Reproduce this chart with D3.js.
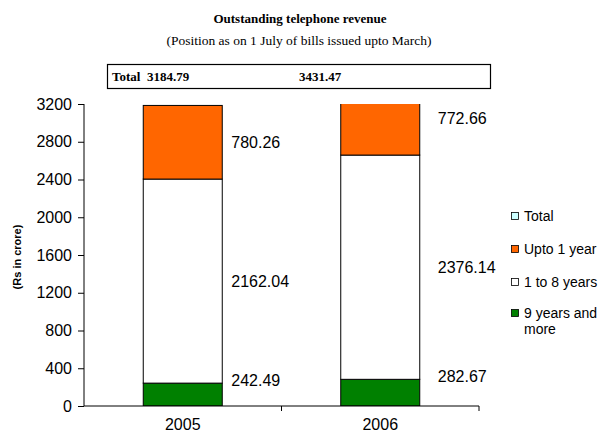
<!DOCTYPE html>
<html><head><meta charset="utf-8">
<script src="https://cdn.jsdelivr.net/npm/d3@7"></script>
<style>body{margin:0;background:#fff}svg{display:block}</style>
</head><body>
<svg id="c" width="603" height="436"></svg>
<script>
const years = ["2005", "2006"];
const totals = [3184.79, 3431.47];
const nineYearsPlus = [242.49, 282.67];
const oneToEight = [2162.04, 2376.14];
const uptoOne = [780.26, 772.66];
const seriesNames = ["9 years and more", "1 to 8 years", "Upto 1 year"];
const legendNames = ["Total", "Upto 1 year", "1 to 8 years", "9 years and more"];
const yTicks = [0, 400, 800, 1200, 1600, 2000, 2400, 2800, 3200];

const svg = d3.select("#c");
const sans = "'Liberation Sans', Arial, sans-serif";
const serif = "'Liberation Serif', 'Times New Roman', serif";
const colors = {"Total": "#CCFFFF", "Upto 1 year": "#FF6600", "1 to 8 years": "#FFFFFF", "9 years and more": "#008000"};

// Titles
svg.append("text").attr("x", 300).attr("y", 23).attr("text-anchor", "middle")
  .style("font-family", serif).style("font-weight", "bold").style("font-size", "13px")
  .text("Outstanding telephone revenue");
svg.append("text").attr("x", 299).attr("y", 45).attr("text-anchor", "middle")
  .style("font-family", serif).style("font-size", "13.5px")
  .text("(Position as on 1 July of bills issued upto March)");

// Totals box
svg.append("rect").attr("x", 107.5).attr("y", 64.5).attr("width", 383).attr("height", 24)
  .attr("fill", "none").attr("stroke", "#000").attr("stroke-width", 1.2);
svg.append("text").attr("x", 112).attr("y", 80.5)
  .style("font-family", serif).style("font-weight", "bold").style("font-size", "13px")
  .attr("xml:space", "preserve").text("Total  " + totals[0].toFixed(2));
svg.append("text").attr("x", 299).attr("y", 80.5)
  .style("font-family", serif).style("font-weight", "bold").style("font-size", "13px")
  .text(totals[1].toFixed(2));

// Scales
const x = d3.scaleBand().domain(years).range([84, 479]).paddingInner(0).paddingOuter(0);
const y = d3.scaleLinear().domain([0, 3200]).range([406, 104]);
const barW = x.bandwidth() * 0.4;

const rows = years.map((yr, i) => ({year: yr, "9 years and more": nineYearsPlus[i], "1 to 8 years": oneToEight[i], "Upto 1 year": uptoOne[i]}));
const stacked = d3.stack().keys(seriesNames)(rows);

svg.append("clipPath").attr("id", "plotclip").append("rect")
  .attr("x", 84).attr("y", y(3200)).attr("width", 395).attr("height", y(0) - y(3200));

const g = svg.append("g").attr("clip-path", "url(#plotclip)");
stacked.forEach(s => {
  g.selectAll(null).data(s).enter().append("rect")
    .attr("x", d => x(d.data.year) + (x.bandwidth() - barW) / 2)
    .attr("y", d => y(d[1]))
    .attr("width", barW)
    .attr("height", d => y(d[0]) - y(d[1]))
    .attr("fill", colors[s.key])
    .attr("stroke", "#000").attr("stroke-width", 1);
});

// Value labels
const labelOffset = [9, 18];
stacked.forEach((s, si) => {
  svg.selectAll(null).data(s).enter().append("text")
    .attr("x", (d, i) => x(d.data.year) + (x.bandwidth() + barW) / 2 + labelOffset[i])
    .attr("y", d => si === 0 ? y(d[1]) - 2.5 : (y(d[0]) + y(d[1])) / 2)
    .attr("dy", "0.35em")
    .style("font-family", sans).style("font-size", "16px").attr("fill", "#000")
    .text(d => (d[1] - d[0]).toFixed(2));
});

// Y axis
const yAxis = svg.append("g").attr("transform", "translate(84,0)")
  .call(d3.axisLeft(y).tickValues(yTicks).tickSize(6).tickPadding(6).tickFormat(d3.format("d")));
yAxis.select(".domain").attr("stroke", "#000").attr("d", "M0," + y(3200) + "V" + y(0));
yAxis.selectAll("text").style("font-family", sans).style("font-size", "16px").attr("fill", "#000");

// X axis
const xAxis = svg.append("g").attr("transform", "translate(0,406)")
  .call(d3.axisBottom(x).tickSize(0).tickPadding(13));
xAxis.select(".domain").attr("d", "M84,0H479").attr("stroke", "#000");
xAxis.selectAll("text").style("font-family", sans).style("font-size", "16px").attr("fill", "#000");
const bounds = years.map(yr => x(yr) + x.bandwidth());
xAxis.selectAll(".bound").data(bounds).enter().append("line")
  .attr("x1", d => d).attr("x2", d => d).attr("y1", 0).attr("y2", 5).attr("stroke", "#000");

// Y axis title
svg.append("text").attr("transform", "translate(21,257) rotate(-90)").attr("text-anchor", "middle")
  .style("font-family", sans).style("font-weight", "bold").style("font-size", "11px")
  .text("(Rs in crore)");

// Legend
const legY = [216, 249, 282, 313];
legendNames.forEach((n, i) => {
  svg.append("rect").attr("x", 511.5).attr("y", legY[i] - 3.5).attr("width", 7).attr("height", 7)
    .attr("fill", colors[n]).attr("stroke", "#000").attr("stroke-width", 0.8);
  const t = svg.append("text").attr("x", 524).attr("y", legY[i]).attr("dy", "0.35em")
    .style("font-family", sans).style("font-size", "14px").attr("fill", "#000");
  if (n === "9 years and more") {
    t.text("9 years and");
    svg.append("text").attr("x", 524).attr("y", legY[i] + 16).attr("dy", "0.35em")
      .style("font-family", sans).style("font-size", "14px").attr("fill", "#000").text("more");
  } else t.text(n);
});
</script>
</body></html>
